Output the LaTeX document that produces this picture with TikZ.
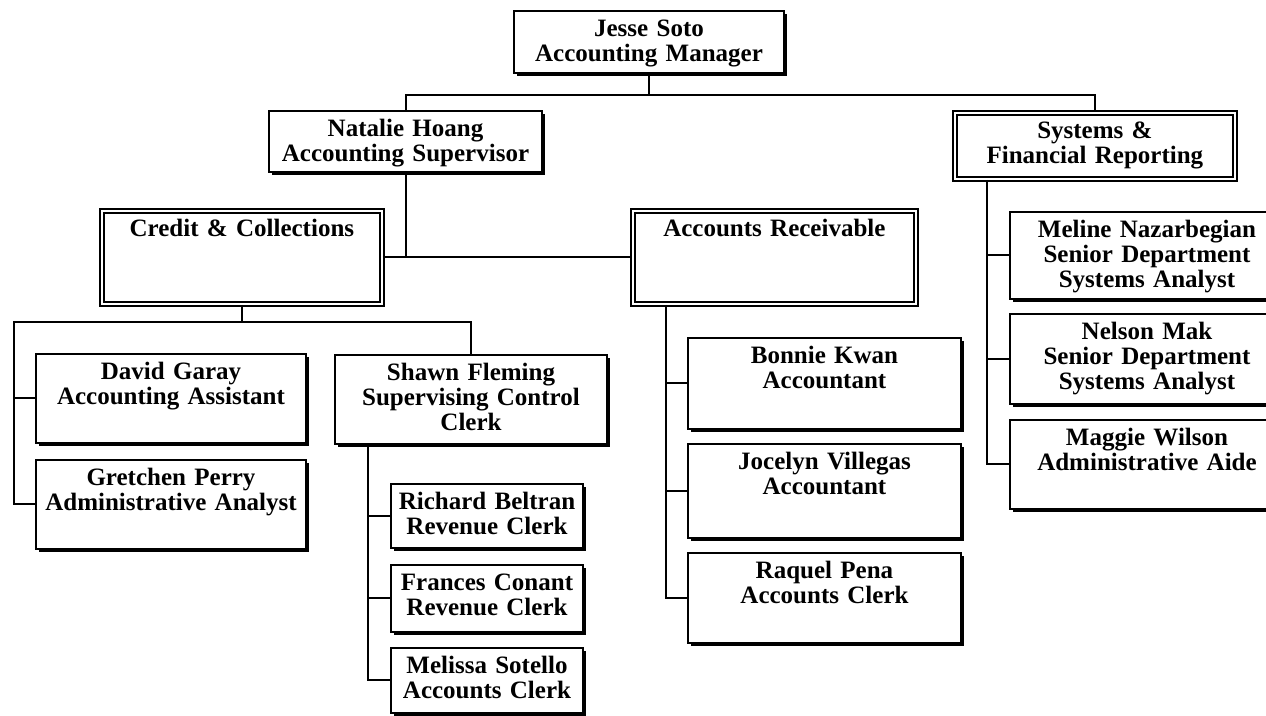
\documentclass[tikz,border=0pt]{standalone}
\usepackage{fontspec}
\setmainfont{Liberation Serif}
\usetikzlibrary{shadows}

\begin{document}
\begin{tikzpicture}[
    x=0.5pt, y=-0.5pt,
    post/.style={
      draw, line width=1pt, fill=white, anchor=north west, inner sep=0pt,
      align=center, text height=13pt,
      font=\bfseries\fontsize{12.5}{12.5}\selectfont,
      drop shadow={shadow xshift=1.6pt, shadow yshift=-1.6pt, opacity=1, fill=black}
    },
    unit/.style={
      draw, double, line width=0.9pt, double distance=1.1pt, fill=white,
      anchor=north west, inner sep=0pt, align=center, text height=13pt,
      font=\bfseries\fontsize{12.5}{12.5}\selectfont
    },
    link/.style={line width=1pt},
  ]
    \useasboundingbox (0,0) rectangle (1266,716);
    \node[post, text width=135pt, text depth=18pt] (jesse) at (513,10) {Jesse Soto\\Accounting Manager};
    \node[post, text width=136.5pt, text depth=17.5pt] (natalie) at (268,110) {Natalie Hoang\\Accounting Supervisor};
    \node[unit, text width=140pt, text depth=20pt] (sfr) at (954,112) {Systems \&\\Financial Reporting};
    \node[unit, text width=140pt, text depth=33.5pt] (credit) at (101,210) {Credit \& Collections};
    \node[unit, text width=141.5pt, text depth=33.5pt] (recv) at (632,210) {Accounts Receivable};
    \node[post, text width=135pt, text depth=31.5pt] (david) at (35,353) {David Garay\\Accounting Assistant};
    \node[post, text width=135pt, text depth=31.5pt] (gretchen) at (35,459) {Gretchen Perry\\Administrative Analyst};
    \node[post, text width=136pt, text depth=31.5pt] (shawn) at (334,354) {Shawn Fleming\\Supervising Control\\Clerk};
    \node[post, text width=96pt, text depth=19pt] (richard) at (390,483) {Richard Beltran\\Revenue Clerk};
    \node[post, text width=96pt, text depth=20.5pt] (frances) at (390,564) {Frances Conant\\Revenue Clerk};
    \node[post, text width=96pt, text depth=19.5pt] (melissa) at (390,647) {Melissa Sotello\\Accounts Clerk};
    \node[post, text width=136.5pt, text depth=32.5pt] (bonnie) at (687,337) {Bonnie Kwan\\Accountant};
    \node[post, text width=136.5pt, text depth=34pt] (jocelyn) at (687,443) {Jocelyn Villegas\\Accountant};
    \node[post, text width=136.5pt, text depth=32pt] (raquel) at (687,552) {Raquel Pena\\Accounts Clerk};
    \node[post, text width=137pt, text depth=30.5pt] (meline) at (1009,211) {Meline Nazarbegian\\Senior Department\\Systems Analyst};
    \node[post, text width=137pt, text depth=32pt] (nelson) at (1009,313) {Nelson Mak\\Senior Department\\Systems Analyst};
    \node[post, text width=137pt, text depth=31.5pt] (maggie) at (1009,419) {Maggie Wilson\\Administrative Aide};

    \draw[link] (jesse.south) -- ++(0,21) -| (natalie.north);
    \draw[link] (jesse.south) -- ++(0,21) -| (sfr.north);
    \draw[link] (credit.east) -- (recv.west);
    \draw[link] (natalie.south) -- (natalie.south |- credit.east);

    \draw[link] (credit.south) -- ++(0,17) coordinate (ccjoin) -| (shawn.north);
    \draw[link] (ccjoin) -| ([xshift=-10.5pt]gretchen.west) -- (gretchen.west);
    \draw[link] ([xshift=-10.5pt]david.west) -- (david.west);

    \draw[link] ([xshift=17pt]shawn.south west) |- (melissa.west);
    \foreach \n in {richard, frances}
      \draw[link] (\n.west) -- ++(-22,0);

    \draw[link] ([xshift=17pt]recv.south west) |- (raquel.west);
    \foreach \n in {bonnie, jocelyn}
      \draw[link] (\n.west) -- ++(-21,0);

    \draw[link] ([xshift=16.5pt]sfr.south west) |- (maggie.west);
    \foreach \n in {meline, nelson}
      \draw[link] (\n.west) -- ++(-22,0);
  \end{tikzpicture}
\end{document}
